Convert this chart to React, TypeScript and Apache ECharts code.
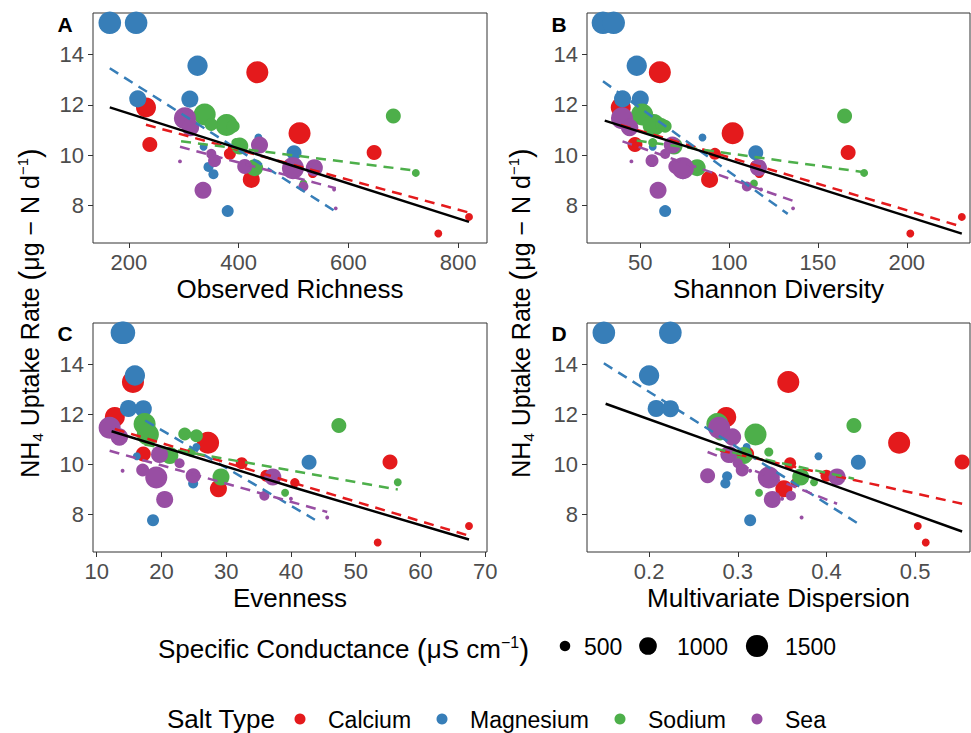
import React, { useEffect, useRef } from "react";
import * as echarts from "echarts";

const FONT = "'Liberation Sans', Arial, Helvetica, sans-serif";

const saltTypes = ["Calcium", "Magnesium", "Sodium", "Sea"];
const saltColors = ["#E41A1C", "#377EB8", "#4DAF4A", "#984EA3"];

// ---- Calcium ----
const calciumUptake = [13.3, 11.9, 10.87, 10.42, 10.1, 10.05, 9.27, 9.03, 7.54, 6.88, 9.55];
const calciumCond = [1480, 1240, 1480, 770, 770, 575, 450, 940, 405, 405, 575];
const calciumRichness = [434, 231, 511, 238, 647, 384, 535, 423, 820, 764, 540];
const calciumShannon = [61, 39, 102, 47, 167, 92, 117, 89, 231, 202, 115];
const calciumEvenness = [15.6, 12.8, 27.2, 17.2, 55.3, 32.4, 40.6, 28.8, 67.5, 53.4, 36.2];
const calciumDispersion = [0.357, 0.287, 0.482, 0.31, 0.553, 0.359, 0.365, 0.352, 0.503, 0.512, 0.4];

// ---- Magnesium ----
const magnesiumUptake = [15.27, 15.27, 13.56, 12.24, 12.23, 10.33, 9.53, 9.24, 7.77, 10.7, 10.09];
const magnesiumCond = [1550, 1550, 1270, 940, 940, 405, 480, 480, 575, 405, 770];
const magnesiumRichness = [165, 213, 325, 216, 311, 336, 345, 354, 380, 436, 501];
const magnesiumShannon = [29, 35, 48, 40, 50, 57, 71, 74, 64, 85, 115];
const magnesiumEvenness = [13.9, 14.2, 15.9, 14.9, 17.2, 16.2, 24.6, 24.9, 18.7, 25.4, 42.8];
const magnesiumDispersion = [0.149, 0.224, 0.2, 0.208, 0.224, 0.391, 0.288, 0.286, 0.314, 0.31, 0.436];

// ---- Sodium ----
const sodiumUptake = [11.56, 11.62, 11.2, 10.36, 9.5, 9.29, 8.87, 11.22, 11.15, 10.5];
const sodiumCond = [770, 1480, 1480, 940, 940, 405, 405, 630, 630, 440];
const sodiumRichness = [682, 338, 378, 402, 429, 723, 518, 350, 390, 395];
const sodiumShannon = [165, 51, 57.5, 69, 82, 176, 114, 62, 64, 57];
const sodiumEvenness = [47.4, 17.4, 17.9, 21.3, 29.2, 56.5, 39.1, 23.6, 25.4, 24.6];
const sodiumDispersion = [0.431, 0.277, 0.32, 0.307, 0.371, 0.386, 0.324, 0.28, 0.29, 0.335];

// ---- Sea ----
const seaUptake = [11.47, 11.1, 10.4, 10.05, 9.78, 9.75, 9.55, 8.6, 9.48, 9.5, 8.75, 8.63, 7.88];
const seaCond = [1480, 980, 940, 480, 630, 350, 770, 940, 1480, 940, 480, 350, 350];
const seaRichness = [302, 312, 438, 350, 356, 293, 411, 335, 499, 538, 518, 574, 577];
const seaShannon = [39.7, 44, 68, 64, 56.6, 45, 70, 60, 74, 116.5, 110, 118, 136];
const seaEvenness = [12, 13.5, 19.7, 22.8, 17.1, 14, 24.9, 20.5, 19.2, 37.2, 35.9, 40, 45.6];
const seaDispersion = [0.279, 0.294, 0.29, 0.3, 0.305, 0.314, 0.266, 0.339, 0.335, 0.412, 0.36, 0.35, 0.372];

// ---- fitted lines ----
const richnessFitAll = [[165, 11.9], [820, 7.34]];
const richnessFitBySalt = [
  [[231, 11.21], [820, 7.71]],
  [[165, 13.46], [577, 7.75]],
  [[295, 10.55], [723, 9.38]],
  [[293, 10.33], [577, 8.68]],
];
const shannonFitAll = [[30, 11.37], [231, 6.87]];
const shannonFitBySalt = [
  [[39, 11.2], [231, 7.15]],
  [[29, 12.94], [133, 7.66]],
  [[48, 10.58], [176, 9.32]],
  [[40, 10.55], [136, 8.18]],
];
const evennessFitAll = [[12.3, 11.33], [40.3, 9.09], [67.5, 7.0]];
const evennessFitBySalt = [
  [[12.8, 11.42], [67.5, 7.15]],
  [[17.5, 11.76], [43.7, 7.79]],
  [[17.4, 10.8], [56.5, 9.0]],
  [[12, 10.55], [45.6, 8.1]],
];
const dispersionFitAll = [[0.151, 12.43], [0.553, 7.32]];
const dispersionFitBySalt = [
  [[0.28, 10.56], [0.553, 8.43]],
  [[0.149, 14.05], [0.436, 7.63]],
  [[0.275, 10.63], [0.431, 9.43]],
  [[0.266, 10.5], [0.412, 8.43]],
];

// ---- ticks ----
const yTicks = [8, 10, 12, 14];
const xTicksRichness = [200, 400, 600, 800];
const xTicksShannon = [50, 100, 150, 200];
const xTicksEvenness = [10, 20, 30, 40, 50, 60, 70];
const xTicksDispersion = [0.2, 0.3, 0.4, 0.5];
const xTitles = ["Observed Richness", "Shannon Diversity", "Evenness", "Multivariate Dispersion"];
const sizeLegendValues = [500, 1000, 1500];
// conductance range of the size scale (µS/cm)
const condScaleLimits = [350, 1650];

const uptakeBySalt = [calciumUptake, magnesiumUptake, sodiumUptake, seaUptake];
const condBySalt = [calciumCond, magnesiumCond, sodiumCond, seaCond];
const xBySaltPanel = [
  [calciumRichness, magnesiumRichness, sodiumRichness, seaRichness],
  [calciumShannon, magnesiumShannon, sodiumShannon, seaShannon],
  [calciumEvenness, magnesiumEvenness, sodiumEvenness, seaEvenness],
  [calciumDispersion, magnesiumDispersion, sodiumDispersion, seaDispersion],
];
const fitsAll = [richnessFitAll, shannonFitAll, evennessFitAll, dispersionFitAll];
const fitsBySalt = [richnessFitBySalt, shannonFitBySalt, evennessFitBySalt, dispersionFitBySalt];
const xTicks = [xTicksRichness, xTicksShannon, xTicksEvenness, xTicksDispersion];

const layout = [
  { left: 93, top: 13, width: 394, height: 230, xMin: 134.4, xMax: 852.8, label: "A", lx: 65, ly: 24 },
  { left: 587, top: 13, width: 383, height: 230, xMin: 20, xMax: 235.6, label: "B", lx: 559, ly: 24 },
  { left: 93, top: 323, width: 394, height: 229, xMin: 9.43, xMax: 70.28, label: "C", lx: 65, ly: 333 },
  { left: 587, top: 323, width: 383, height: 229, xMin: 0.13, xMax: 0.5619, label: "D", lx: 559, ly: 333 },
];

// area-style size scale (like ggplot scale_size): diameter in px
function sizeOf(c: number) {
  const [lo, hi] = condScaleLimits;
  const t = Math.max(0, Math.min(1, (c - lo) / (hi - lo)));
  return 3.9 * (1 + 5 * Math.sqrt(t));
}

function buildOption() {
  const grid: any[] = [];
  const xAxis: any[] = [];
  const yAxis: any[] = [];
  const series: any[] = [];
  const graphic: any[] = [];

  layout.forEach((L, p) => {
    grid.push({
      left: L.left,
      top: L.top,
      width: L.width,
      height: L.height,
      show: true,
      borderColor: "#333333",
      borderWidth: 1,
      backgroundColor: "transparent",
    });
    xAxis.push({
      type: "value",
      gridIndex: p,
      min: L.xMin,
      max: L.xMax,
      name: xTitles[p],
      nameLocation: "middle",
      nameGap: 33,
      nameTextStyle: { fontSize: 26, color: "#000", fontFamily: FONT },
      axisLine: { show: false },
      splitLine: { show: false },
      axisTick: { show: true, length: 5, lineStyle: { color: "#333333", width: 1 }, customValues: xTicks[p] },
      axisLabel: {
        fontSize: 22,
        color: "#4D4D4D",
        fontFamily: FONT,
        margin: 8,
        customValues: xTicks[p],
        formatter: (v: number) => (p === 3 ? v.toFixed(1) : String(v)),
      },
    });
    yAxis.push({
      type: "value",
      gridIndex: p,
      min: 6.5,
      max: 15.66,
      axisLine: { show: false },
      splitLine: { show: false },
      axisTick: { show: true, length: 5, lineStyle: { color: "#333333", width: 1 }, customValues: yTicks },
      axisLabel: {
        fontSize: 22,
        color: "#4D4D4D",
        fontFamily: FONT,
        margin: 9,
        customValues: yTicks,
      },
    });

    saltTypes.forEach((salt, s) => {
      const xs = xBySaltPanel[p][s];
      series.push({
        type: "scatter",
        name: salt,
        xAxisIndex: p,
        yAxisIndex: p,
        data: xs.map((x, i) => [x, uptakeBySalt[s][i], condBySalt[s][i]]),
        symbol: "circle",
        symbolSize: (v: number[]) => sizeOf(v[2]),
        itemStyle: { color: saltColors[s], opacity: 1 },
        z: 2,
        silent: true,
      });
    });
    saltTypes.forEach((salt, s) => {
      series.push({
        type: "line",
        xAxisIndex: p,
        yAxisIndex: p,
        data: fitsBySalt[p][s],
        showSymbol: false,
        symbol: "none",
        lineStyle: { color: saltColors[s], width: 2.5, type: [10, 7] },
        z: 3,
        silent: true,
      });
    });
    series.push({
      type: "line",
      xAxisIndex: p,
      yAxisIndex: p,
      data: fitsAll[p],
      showSymbol: false,
      symbol: "none",
      lineStyle: { color: "#000", width: 2.4 },
      z: 4,
      silent: true,
    });

    graphic.push({
      type: "text",
      x: L.lx,
      y: L.ly,
      style: {
        text: L.label,
        font: `bold 21px ${FONT}`,
        fill: "#000",
        align: "center",
        verticalAlign: "middle",
      },
    });
  });

  const yTitleRich = {
    a: { fontSize: 25, fontFamily: FONT, fill: "#000", lineHeight: 30 },
    s: { fontSize: 15, fontFamily: FONT, fill: "#000", lineHeight: 14, verticalAlign: "bottom" },
    u: { fontSize: 15, fontFamily: FONT, fill: "#000", lineHeight: 18, verticalAlign: "top" },
    p: { fontSize: 29, fontFamily: FONT, fill: "#000", lineHeight: 30 },
  };
  [30, 521].forEach((x) => {
    graphic.push({
      type: "text",
      x,
      y: 313,
      rotation: Math.PI / 2,
      style: {
        text: "{a|NH}{s|4}{a| Uptake Rate }{p|(}{a|μg − N d}{u|−1}{p|)}",
        rich: yTitleRich,
        align: "center",
        verticalAlign: "middle",
      },
    });
  });

  // size legend
  const legRich = {
    a: { fontSize: 26, fontFamily: FONT, fill: "#000", lineHeight: 30 },
    u: { fontSize: 16, fontFamily: FONT, fill: "#000", lineHeight: 18, verticalAlign: "top" },
    p: { fontSize: 30, fontFamily: FONT, fill: "#000", lineHeight: 30 },
  };
  graphic.push({
    type: "text",
    x: 158,
    y: 649,
    style: {
      text: "{a|Specific Conductance }{p|(}{a|μS cm}{u|−1}{p|)}",
      rich: legRich,
      align: "left",
      verticalAlign: "middle",
    },
  });
  const dotX = [565, 648, 757];
  const labX = [584, 677, 785];
  sizeLegendValues.forEach((v, i) => {
    graphic.push({
      type: "circle",
      shape: { cx: dotX[i], cy: 646, r: sizeOf(v) / 2 },
      style: { fill: "#000" },
    });
    graphic.push({
      type: "text",
      x: labX[i],
      y: 647,
      style: { text: String(v), font: `23px ${FONT}`, fill: "#000", align: "left", verticalAlign: "middle" },
    });
  });

  // salt type legend
  graphic.push({
    type: "text",
    x: 167,
    y: 719,
    style: { text: "Salt Type", font: `26px ${FONT}`, fill: "#000", align: "left", verticalAlign: "middle" },
  });
  const sDot = [300, 442, 620, 757];
  const sLab = [328, 470, 648, 785];
  saltTypes.forEach((salt, s) => {
    graphic.push({
      type: "circle",
      shape: { cx: sDot[s], cy: 719, r: 5.5 },
      style: { fill: saltColors[s] },
    });
    graphic.push({
      type: "text",
      x: sLab[s],
      y: 720,
      style: { text: salt, font: `23px ${FONT}`, fill: "#000", align: "left", verticalAlign: "middle" },
    });
  });

  return {
    animation: false,
    backgroundColor: "#ffffff",
    grid,
    xAxis,
    yAxis,
    series,
    graphic,
  };
}

export default function App() {
  const ref = useRef<HTMLDivElement>(null);
  useEffect(() => {
    if (!ref.current) return;
    const chart = echarts.init(ref.current, null, { renderer: "svg" });
    chart.setOption(buildOption() as any);
    return () => {
      chart.dispose();
    };
  }, []);
  return (
    <div
      ref={ref}
      style={{ position: "fixed", left: 0, top: 0, width: 971, height: 733, background: "#fff" }}
    />
  );
}
